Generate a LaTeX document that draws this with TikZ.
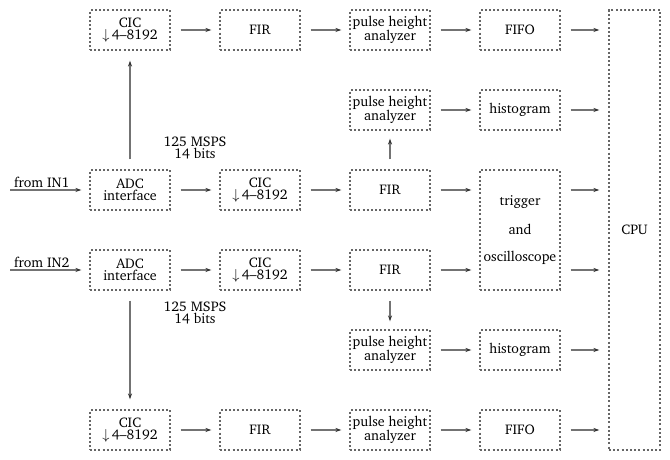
\documentclass[tikz,border=0pt]{standalone}
\usepackage[T1]{fontenc}
\usepackage{charter}
\usepackage{amsmath}
\usetikzlibrary{positioning, arrows.meta}

\begin{document}
\begin{tikzpicture}[x=10pt,y=10pt,
    font=\fontsize{14}{12.5}\selectfont,
    block/.style={draw=black!60, line width=1.1pt, dash pattern=on 2pt off 2.2pt,
      minimum width=80pt, minimum height=40pt, inner sep=0pt, align=center},
    arr/.style={-{Stealth[length=6pt,width=4pt,black!80]}, draw=black!55, line width=1.5pt,
      shorten <=10pt, shorten >=8pt}]
      \useasboundingbox (0,0) rectangle (67,46);

      \node[block] (CICt) at (13,43) {CIC\\$\downarrow$\,4--8192};
      \node[block] (FIRt) at (26,43) {FIR};
      \node[block] (PHAt) at (39,43) {pulse height\\analyzer};
      \node[block] (FIFOt) at (52,43) {FIFO};

      \node[block] (PHA1) at (39,35) {pulse height\\analyzer};
      \node[block] (HIST1) at (52,35) {histogram};

      \node[block] (ADC1) at (13,27) {ADC\\interface};
      \node[block] (CIC1) at (26,27) {CIC\\$\downarrow$\,4--8192};
      \node[block] (FIR1) at (39,27) {FIR};

      \node[block, minimum height=120pt] (trig) at (52,23) {trigger\\[14.5pt]and\\[14.5pt]oscilloscope};

      \node[block] (ADC2) at (13,19) {ADC\\interface};
      \node[block] (CIC2) at (26,19) {CIC\\$\downarrow$\,4--8192};
      \node[block] (FIR2) at (39,19) {FIR};

      \node[block] (PHA2) at (39,11) {pulse height\\analyzer};
      \node[block] (HIST2) at (52,11) {histogram};

      \node[block] (CICb) at (13,3) {CIC\\$\downarrow$\,4--8192};
      \node[block] (FIRb) at (26,3) {FIR};
      \node[block] (PHAb) at (39,3) {pulse height\\analyzer};
      \node[block] (FIFOb) at (52,3) {FIFO};

      \node[block, minimum width=51pt, minimum height=440pt] (CPU) at (63.45,23) {CPU};

      \node[align=center] (rate1) at (19.5,31.2) {125 MSPS\\14 bits};
      \node[align=center] (rate2) at (19.5,14.7) {125 MSPS\\14 bits};

      \coordinate (in1) at (1,27);
      \coordinate (in2) at (1,19);

      \draw[arr, shorten <=0pt] (in1) -- node[above, pos=0.4, inner sep=1.5pt] {from IN1} (node cs:name=ADC1);
      \draw[arr, shorten <=0pt] (in2) -- node[above, pos=0.4, inner sep=1.5pt] {from IN2} (node cs:name=ADC2);

      \draw[arr, shorten >=10pt] (node cs:name=ADC1) -- (node cs:name=CICt);
      \draw[arr, shorten >=10pt] (node cs:name=ADC2) -- (node cs:name=CICb);

      \draw[arr] (node cs:name=CICt) -- (node cs:name=FIRt);
      \draw[arr] (node cs:name=FIRt) -- (node cs:name=PHAt);
      \draw[arr] (node cs:name=PHAt) -- (node cs:name=FIFOt);

      \draw[arr] (node cs:name=ADC1) -- (node cs:name=CIC1);
      \draw[arr] (node cs:name=CIC1) -- (node cs:name=FIR1);
      \draw[arr] (node cs:name=FIR1) -- (node cs:name=PHA1);
      \draw[arr] (node cs:name=PHA1) -- (node cs:name=HIST1);

      \draw[arr] (node cs:name=ADC2) -- (node cs:name=CIC2);
      \draw[arr] (node cs:name=CIC2) -- (node cs:name=FIR2);
      \draw[arr] (node cs:name=FIR2) -- (node cs:name=PHA2);
      \draw[arr] (node cs:name=PHA2) -- (node cs:name=HIST2);

      \draw[arr] (node cs:name=CICb) -- (node cs:name=FIRb);
      \draw[arr] (node cs:name=FIRb) -- (node cs:name=PHAb);
      \draw[arr] (node cs:name=PHAb) -- (node cs:name=FIFOb);

      \draw[arr] (FIR1.east) -- (FIR1 -| trig.west);
      \draw[arr] (FIR2.east) -- (FIR2 -| trig.west);

      \draw[arr, shorten >=9pt] (FIFOt.east) -- (FIFOt -| CPU.west);
      \draw[arr, shorten >=9pt] (HIST1.east) -- (HIST1 -| CPU.west);
      \draw[arr, shorten >=9pt] (FIR1 -| trig.east) -- (FIR1 -| CPU.west);
      \draw[arr, shorten >=9pt] (FIR2 -| trig.east) -- (FIR2 -| CPU.west);
      \draw[arr, shorten >=9pt] (HIST2.east) -- (HIST2 -| CPU.west);
      \draw[arr, shorten >=9pt] (FIFOb.east) -- (FIFOb -| CPU.west);
    \end{tikzpicture}
\end{document}
